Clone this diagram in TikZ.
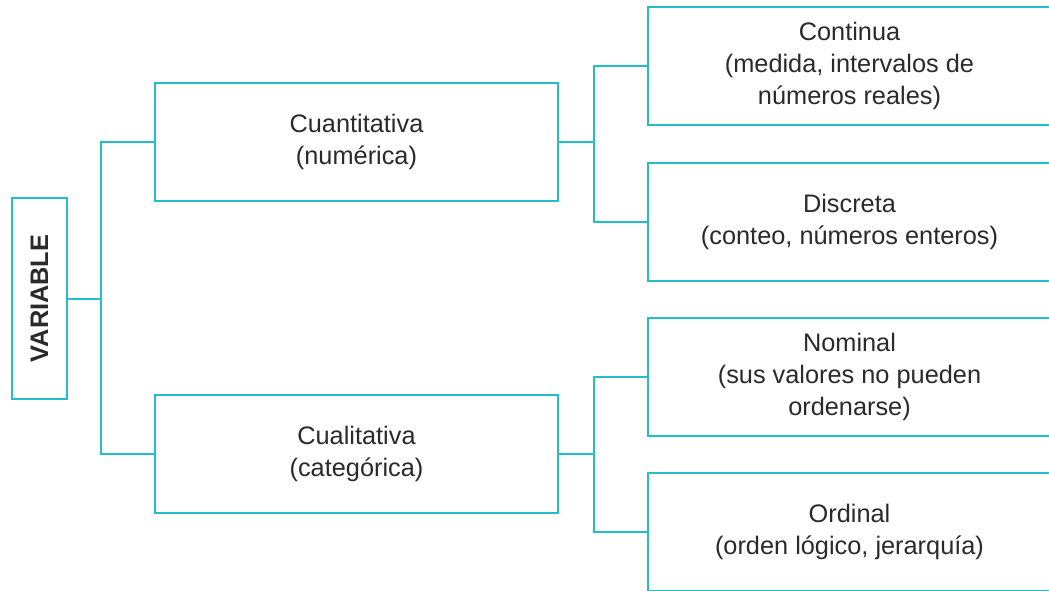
\documentclass[tikz,border=0pt]{standalone}
\usepackage{fontspec}
\setmainfont{Liberation Sans}
\usepackage{graphicx}
\definecolor{linea}{HTML}{22BEC9}
\definecolor{texto}{HTML}{2A2A2A}
\begin{document}
\begin{tikzpicture}[x=0.75pt,y=-0.75pt,
	caja/.style={draw=linea,line width=1.5pt,align=center,text=texto,inner sep=0pt,
		minimum width=302.25pt,minimum height=88.5pt,font=\fontsize{19}{24}\selectfont},
	enlace/.style={draw=linea,line width=1.5pt}]
	\useasboundingbox (0,0) rectangle (1049,590);
	\node[caja,minimum width=41.25pt,minimum height=150.75pt] (A) at (39.5,298.5) {\rotatebox{90}{\bfseries VARIABLE}};
	\node[caja] (B) at (356.5,141.5) {Cuantitativa\\(numérica)};
	\node[caja] (C) at (356.5,454) {Cualitativa\\(categórica)};
	\node[caja] (D) at (849.5,66.4) {Continua\\(medida, intervalos de\\números reales)};
	\node[caja] (E) at (849.5,221.5) {Discreta\\(conteo, números enteros)};
	\node[caja] (F) at (849.5,376.5) {Nominal\\(sus valores no pueden\\ordenarse)};
	\node[caja] (G) at (849.5,531.5) {Ordinal\\(orden lógico, jerarquía)};
	\coordinate (a) at (101,298.5);
	\coordinate (b) at (594,141.5);
	\coordinate (c) at (594,454);
	
	\draw[enlace] (A) -- (a);
	\draw[enlace] (a) |- (B);
	\draw[enlace] (a) |- (C);
	\draw[enlace] (B) -- (b);
	\draw[enlace] (b) |- (D);
	\draw[enlace] (b) |- (E);
	\draw[enlace] (C) -- (c);
	\draw[enlace] (c) |- (F);
	\draw[enlace] (c) |- (G);
\end{tikzpicture}
\end{document}
